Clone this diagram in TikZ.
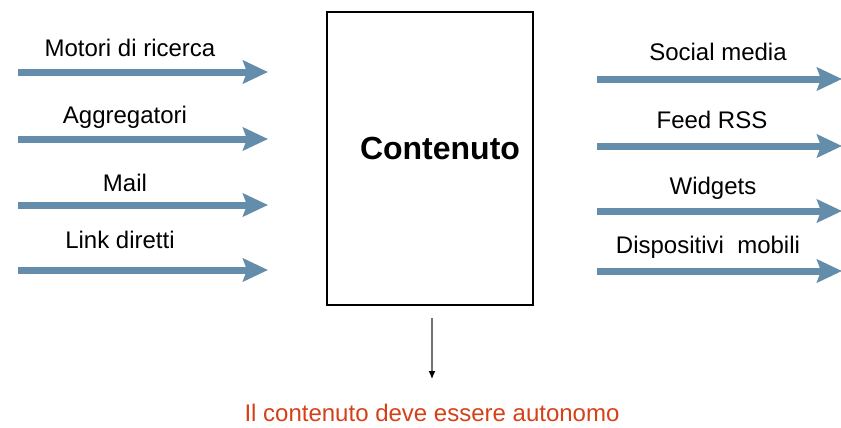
\documentclass[tikz,border=0pt]{standalone}
\usepackage{fontspec}
\setmainfont{Liberation Sans}
\usetikzlibrary{arrows.meta}
\definecolor{freccia}{RGB}{99,141,170}
\definecolor{avviso}{RGB}{214,64,24}

\begin{document}
\begin{tikzpicture}[x=0.5pt,y=-0.5pt,
    canale/.style={draw=freccia,line width=3.5pt,-{Stealth[length=12.5pt,width=11.5pt,inset=2pt]}},
    etichetta/.style={font=\fontsize{12}{14}\selectfont,inner sep=0pt}]
    \useasboundingbox (0,0) rectangle (841,428);
    % box in the middle
    \node[draw,line width=1pt,minimum width=103pt,minimum height=146.5pt,inner sep=0pt] (box) at (430,158.5) {};
    \node[font=\bfseries\fontsize{16}{18}\selectfont] (contenuto) at (440,148) {Contenuto};
    \foreach \n/\y/\lx/\ly/\txt in {1/72/130/48/Motori di ricerca,2/139/125/117/Aggregatori,3/205/125/183/Mail,4/270/120/240/Link diretti} % edit here for the incoming arrows
    {
        \coordinate (in\n a) at (18,\y);
        \coordinate (in\n b) at (268,\y);
        \draw[canale] (in\n a) -- (in\n b);
        \node[etichetta] (lin\n) at (\lx,\ly) {\txt};
    }
    \foreach \n/\y/\lx/\ly/\txt in {1/79/718/52/Social media,2/146/712/120/Feed RSS,3/211/713/188/Widgets,4/271/708/247/Dispositivi\ \ mobili} % edit here for the outgoing arrows
    {
        \coordinate (out\n a) at (597,\y);
        \coordinate (out\n b) at (842,\y);
        \draw[canale] (out\n a) -- (out\n b);
        \node[etichetta] (lout\n) at (\lx,\ly) {\txt};
    }
    \coordinate (giu) at (432,318);
    \coordinate (giub) at (432,379);
    \draw[draw=black!55,line width=0.6pt,-{Latex[black,length=4pt,width=3.5pt]}] (giu) -- (giub);
    \node[etichetta,text=avviso] (nota) at (432,413) {Il contenuto deve essere autonomo};
\end{tikzpicture}
\end{document}
